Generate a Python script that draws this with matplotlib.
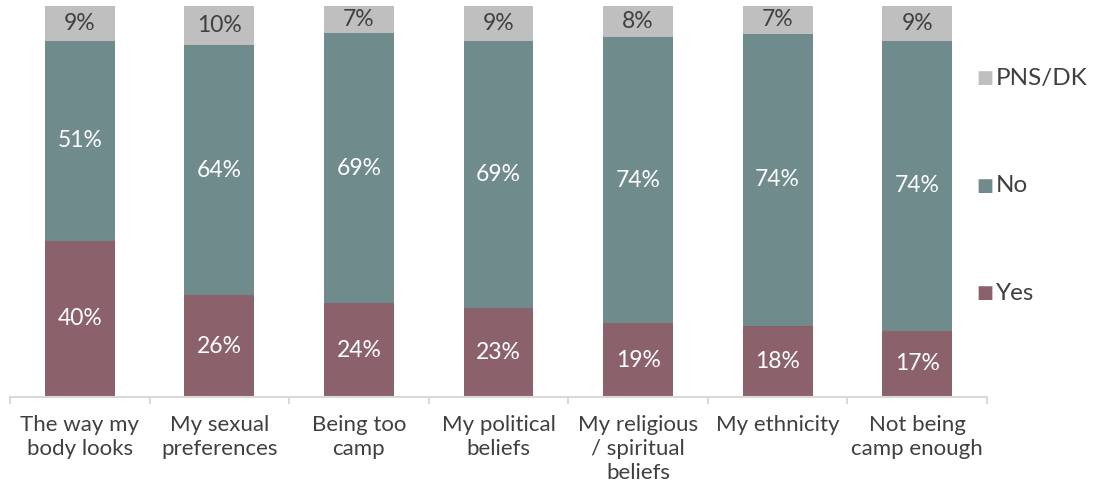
import matplotlib
matplotlib.use("Agg")
import matplotlib.pyplot as plt

categories = ["The way my\nbody looks", "My sexual\npreferences", "Being too\ncamp",
              "My political\nbeliefs", "My religious\n/ spiritual\nbeliefs", "My ethnicity",
              "Not being\ncamp enough"]
yes = [40, 26, 24, 23, 19, 18, 17]
no = [51, 64, 69, 69, 74, 74, 74]
pns = [9, 10, 7, 9, 8, 7, 9]
series_names = ["Yes", "No", "PNS/DK"]
colors = ["#8B626C", "#6F8B8C", "#BFBFBF"]
text_colors = ["white", "white", "#404040"]

plt.rcParams['font.family'] = ['Lato', 'DejaVu Sans']

fig = plt.figure(figsize=(11.06, 4.84), dpi=100)
ax = fig.add_axes([10/1106, 1-397/484, (987-10)/1106, (397-6)/484])

x = list(range(len(categories)))
totals = [a + b + c for a, b, c in zip(yes, no, pns)]
bottom = [0.0]*len(categories)
for vals, name, c, tc in zip([yes, no, pns], series_names, colors, text_colors):
    heights = [v / t * 100 for v, t in zip(vals, totals)]
    ax.bar(x, heights, width=0.5, bottom=bottom, color=c, label=name)
    for xi, v, h, b in zip(x, vals, heights, bottom):
        ax.text(xi, b + h/2, f"{v}%", ha="center", va="center", color=tc, fontsize=16.5)
    bottom = [b + h for b, h in zip(bottom, heights)]

ax.set_xlim(-0.5, len(categories)-0.5)
ax.set_ylim(0, 100)
for s in ["top", "right", "left"]:
    ax.spines[s].set_visible(False)
ax.spines["bottom"].set_color("#D9D9D9")
ax.spines["bottom"].set_linewidth(1.5)
ax.set_yticks([])
ax.set_xticks(x)
ax.set_xticklabels(categories, fontsize=16, color="#404040", linespacing=1.25)
ax.tick_params(axis="x", length=0, pad=13)
for b in [i - 0.5 for i in range(len(categories)+1)]:
    ax.plot([b, b], [0, -1.6], color="#D9D9D9", lw=1.5, clip_on=False)

legend_y = {"PNS/DK": 78, "No": 186, "Yes": 293}
for i, name in enumerate(series_names):
    yf = 1 - legend_y[name]/484
    fig.text(976/1106, yf, "\u25A0", color=colors[i], fontsize=13, va="center", ha="left",
             family="DejaVu Sans")
    fig.text(996/1106, yf, name, color="#404040", fontsize=17.5, va="center", ha="left")

fig.savefig("out.png", dpi=100)
